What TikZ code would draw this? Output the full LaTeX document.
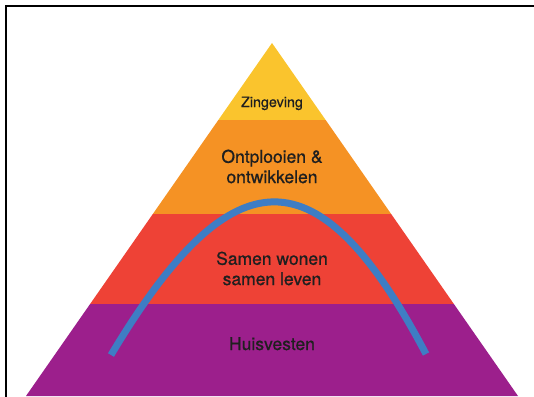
\documentclass[tikz,border=0pt]{standalone}
\usepackage{fontspec}
\setmainfont{TeX Gyre Heros}
\usetikzlibrary{calc}

\definecolor{zinggeel}{RGB}{250,196,45}
\definecolor{ontploranje}{RGB}{245,146,36}
\definecolor{samenrood}{RGB}{238,66,54}
\definecolor{huispaars}{RGB}{156,31,140}
\definecolor{boogblauw}{RGB}{62,125,196}

\newcommand\laagfont{\fontsize{17.5}{20.3}\selectfont\addfontfeatures{FakeBold=0.7}}
\newcommand\topfont{\fontsize{14.3}{17}\selectfont\addfontfeatures{FakeBold=0.7}}

\tikzset{
    laag/.style={font=\laagfont, text=black!88, align=center, inner sep=0pt},
    toplaag/.style={laag, font=\topfont},
    boog/.style={draw=boogblauw, line width=7pt},
    kader/.style={draw=black, line width=2pt},
}

\begin{document}
\begin{tikzpicture}[x=1pt,y=-1pt]
\useasboundingbox (0,0) rectangle (534,396);
\clip (0,0) rectangle (534,396);
\def\tx{272}

\draw [kader] (6,6) rectangle (560,420);

\coordinate (top) at (\tx,43);
\coordinate (linksonder) at (26,396);
\coordinate (rechtsonder) at (518,396);

\begin{scope}
\clip (top) -- (linksonder) -- (rechtsonder) -- cycle;
\fill [zinggeel] (0,0) rectangle (534,120);
\fill [ontploranje] (0,120) rectangle (534,214);
\fill [samenrood] (0,214) rectangle (534,304);
\fill [huispaars] (0,304) rectangle (534,400);
\end{scope}

%\draw [boog] (111,355) parabola bend (274,202) (426,354);
\coordinate (boogl) at (111,355);
\coordinate (boogr) at (426,354);
\draw [boog] (boogl) .. controls (233,151) and (319,151) .. (boogr);

\node [toplaag, anchor=base] (zingeving) at (\tx,107) {Zingeving};
\node [laag] (ontplooien) at (\tx,166.5) {Ontplooien \&\\ontwikkelen};
\node [laag] (samen) at (\tx,268.5) {Samen wonen\\samen leven};
\node [laag, anchor=base] (huisvesten) at (\tx,350) {Huisvesten};

\end{tikzpicture}
\end{document}
